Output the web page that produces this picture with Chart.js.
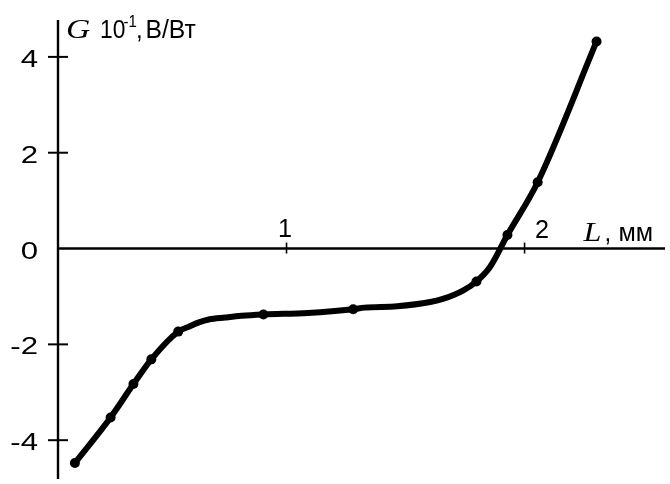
<!DOCTYPE html>
<html><head><meta charset="utf-8">
<script src="https://cdn.jsdelivr.net/npm/chart.js@4"></script>
<style>html,body{margin:0;padding:0;background:#fff}</style>
</head><body>
<canvas id="c" width="670" height="484"></canvas>
<script>
// Curve (L, мм ; G 10^-1, В/Вт)
const curveL = [0.111, 0.261, 0.357, 0.432, 0.545, 0.59, 0.632, 0.673, 0.743, 0.811, 0.903, 1.09, 1.280, 1.327, 1.465, 1.604, 1.660, 1.743, 1.798, 1.854, 1.928, 2.055, 2.3025];
const curveG = [-4.475, -3.525, -2.829, -2.313, -1.734, -1.631, -1.542, -1.480, -1.439, -1.404, -1.377, -1.344, -1.266, -1.233, -1.204, -1.115, -1.047, -0.873, -0.688, -0.392, 0.283, 1.383, 4.322];
// Marked measurement points
const pointL = [0.111, 0.261, 0.357, 0.432, 0.545, 0.903, 1.280, 1.798, 1.928, 2.055, 2.3025];
const pointG = [-4.475, -3.525, -2.829, -2.313, -1.734, -1.377, -1.266, -0.688, 0.283, 1.383, 4.322];
// Axes
const yTickValues = [4, 2, -2, -4];
const yTickLabels = ['4', '2', '0', '-2', '-4'];
const yTickLabelValues = [4, 2, 0, -2, -4];
const xTickValues = [1, 2];
const xTickLabels = ['1', '2'];
const xMin = 0.04, xMax = 2.59, yMin = -4.81, yMax = 4.77;

function txt(ctx, s, x, y, font, align, sx, sy) {
  ctx.save();
  ctx.translate(x, y);
  ctx.scale(sx || 1, sy || 1);
  ctx.font = font;
  ctx.textAlign = align || 'left';
  ctx.textBaseline = 'alphabetic';
  ctx.fillStyle = '#000';
  ctx.fillText(s, 0, 0);
  ctx.restore();
}

const SANS = '"Liberation Sans", Arial, sans-serif';
const SERIF = '"Liberation Serif", "Times New Roman", serif';

const axesPlugin = {
  id: 'axesPlugin',
  beforeDatasetsDraw(chart) {
    const ctx = chart.ctx;
    const xs = chart.scales.x, ys = chart.scales.y;
    const ax = xs.getPixelForValue(xMin);
    const ay = ys.getPixelForValue(0);
    ctx.save();
    ctx.strokeStyle = '#000';
    ctx.lineWidth = 2.4;
    ctx.beginPath();
    ctx.moveTo(ax, ys.getPixelForValue(yMax));
    ctx.lineTo(ax, ys.getPixelForValue(yMin));
    ctx.stroke();
    ctx.beginPath();
    ctx.moveTo(ax, ay);
    ctx.lineTo(xs.getPixelForValue(xMax), ay);
    ctx.stroke();
    ctx.lineWidth = 2;
    yTickValues.forEach(v => {
      const p = ys.getPixelForValue(v);
      ctx.beginPath();
      ctx.moveTo(ax - 10, p);
      ctx.lineTo(ax + 10, p);
      ctx.stroke();
    });
    ctx.lineWidth = 1.6;
    xTickValues.forEach(v => {
      const p = xs.getPixelForValue(v);
      ctx.beginPath();
      ctx.moveTo(p, ay - 6);
      ctx.lineTo(p, ay + 5);
      ctx.stroke();
    });
    yTickLabelValues.forEach((v, i) => {
      const p = ys.getPixelForValue(v);
      txt(ctx, yTickLabels[i], ax - 20, p + 10, '24px ' + SANS, 'right', 1.3, 1);
    });
    txt(ctx, xTickLabels[0], xs.getPixelForValue(xTickValues[0]) - 1.5, ay - 11.7, '24px ' + SANS, 'center', 1.05, 1.1);
    txt(ctx, xTickLabels[1], xs.getPixelForValue(xTickValues[1]) + 17.5, ay - 10.3, '24px ' + SANS, 'center', 1.05, 1.1);
    // y axis title
    txt(ctx, 'G', 66, 38.3, 'italic 28px ' + SERIF, 'left', 1.2, 1.0);
    txt(ctx, '10', 100, 38.3, '24px ' + SANS, 'left', 0.95, 1.1);
    txt(ctx, '-1', 123.5, 27, '15px ' + SANS, 'left', 1, 1.1);
    txt(ctx, ',', 136, 38.3, '24px ' + SANS, 'left', 1, 1.1);
    txt(ctx, 'В/Вт', 145.5, 38.3, '24px ' + SANS, 'left', 1.03, 1.1);
    // x axis title
    txt(ctx, 'L', 583.5, 240.7, 'italic 28px ' + SERIF, 'left', 1.15, 1.0);
    txt(ctx, ',', 604.5, 240.7, '24px ' + SANS, 'left', 1, 1.1);
    txt(ctx, 'мм', 618.5, 240.7, '24px ' + SANS, 'left', 1.05, 1.1);
    ctx.restore();
  }
};

new Chart(document.getElementById('c'), {
  type: 'line',
  data: {
    datasets: [
      {
        data: curveL.map((l, i) => ({x: l, y: curveG[i]})),
        borderColor: '#000',
        borderWidth: 6,
        pointRadius: 0,
        cubicInterpolationMode: 'monotone',
        fill: false,
        borderCapStyle: 'round',
        borderJoinStyle: 'round'
      },
      {
        data: pointL.map((l, i) => ({x: l, y: pointG[i]})),
        showLine: false,
        pointRadius: 5,
        pointStyle: 'circle',
        backgroundColor: '#000',
        borderColor: '#000',
        borderWidth: 0
      }
    ]
  },
  options: {
    responsive: false,
    animation: false,
    devicePixelRatio: 1,
    layout: {padding: {left: 58, top: 20, right: 0, bottom: 0}},
    plugins: {legend: {display: false}, tooltip: {enabled: false}},
    scales: {
      x: {type: 'linear', min: xMin, max: xMax, display: false},
      y: {type: 'linear', min: yMin, max: yMax, display: false}
    }
  },
  plugins: [axesPlugin]
});
</script>
</body></html>
